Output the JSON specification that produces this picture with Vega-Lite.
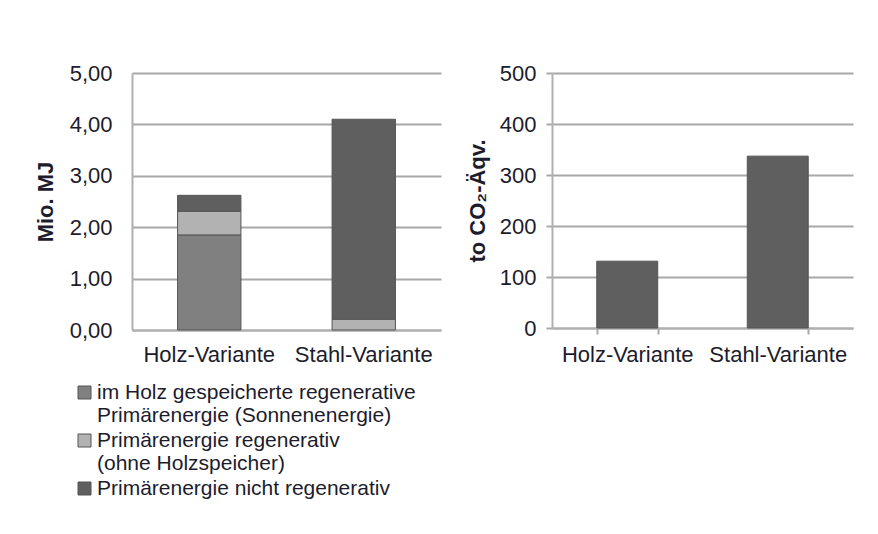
{
  "$schema": "https://vega.github.io/schema/vega-lite/v6.json",
  "background": "white",
  "padding": {"left": 34, "top": 62, "right": 5, "bottom": 5},
  "spacing": 25,
  "config": {
    "font": "Liberation Sans",
    "view": {"stroke": null},
    "axis": {
      "labelFont": "Liberation Sans",
      "labelFontSize": 22,
      "labelColor": "#1c1c2c",
      "titleFont": "Liberation Sans",
      "titleFontSize": 22,
      "titleFontWeight": "bold",
      "titleColor": "#1c1c2c",
      "gridColor": "#a8a8a8",
      "gridWidth": 2,
      "domainColor": "#b0b0b0",
      "domainWidth": 2,
      "tickColor": "#a8a8a8",
      "tickWidth": 2
    }
  },
  "hconcat": [
    {
      "width": 309,
      "height": 257,
      "data": {
        "values": [
          {"variant": "Holz-Variante", "category": "im Holz gespeicherte regenerative Primärenergie (Sonnenenergie)", "order": 1, "value": 1.85},
          {"variant": "Holz-Variante", "category": "Primärenergie regenerativ (ohne Holzspeicher)", "order": 2, "value": 0.46},
          {"variant": "Holz-Variante", "category": "Primärenergie nicht regenerativ", "order": 3, "value": 0.31},
          {"variant": "Stahl-Variante", "category": "Primärenergie regenerativ (ohne Holzspeicher)", "order": 2, "value": 0.21},
          {"variant": "Stahl-Variante", "category": "Primärenergie nicht regenerativ", "order": 3, "value": 3.89}
        ]
      },
      "mark": {"type": "bar", "stroke": "#555555", "strokeWidth": 1},
      "encoding": {
        "x": {
          "field": "variant",
          "type": "nominal",
          "sort": ["Holz-Variante", "Stahl-Variante"],
          "scale": {"paddingInner": 0.59, "paddingOuter": 0.295},
          "axis": {"title": null, "labelAngle": 0, "ticks": false, "labelPadding": 14}
        },
        "y": {
          "field": "value",
          "type": "quantitative",
          "stack": "zero",
          "scale": {"domain": [0, 5]},
          "axis": {
            "title": "Mio. MJ",
            "values": [0, 1, 2, 3, 4, 5],
            "labelExpr": "replace(format(datum.value, '.2f'), '.', ',')",
            "ticks": false,
            "labelPadding": 20,
            "titlePadding": 12
          }
        },
        "color": {
          "field": "category",
          "type": "nominal",
          "scale": {
            "domain": [
              "im Holz gespeicherte regenerative Primärenergie (Sonnenenergie)",
              "Primärenergie regenerativ (ohne Holzspeicher)",
              "Primärenergie nicht regenerativ"
            ],
            "range": ["#808080", "#b2b2b2", "#5f5f5f"]
          },
          "legend": {
            "title": null,
            "orient": "none",
            "legendX": -58,
            "legendY": 309,
            "direction": "vertical",
            "padding": 0,
            "symbolType": "square",
            "symbolSize": 169,
            "symbolStrokeColor": "#555555",
            "symbolStrokeWidth": 1,
            "symbolOffset": 0,
            "labelOffset": 2,
            "labelFont": "Liberation Sans",
            "labelFontSize": 21,
            "labelColor": "#1c1c2c",
            "labelBaseline": "middle",
            "labelLimit": 500,
            "rowPadding": 3,
            "labelExpr": "datum.label == 'im Holz gespeicherte regenerative Primärenergie (Sonnenenergie)' ? ['im Holz gespeicherte regenerative', 'Primärenergie (Sonnenenergie)'] : datum.label == 'Primärenergie regenerativ (ohne Holzspeicher)' ? ['Primärenergie regenerativ', '(ohne Holzspeicher)'] : datum.label"
          }
        },
        "order": {"field": "order", "type": "quantitative"}
      }
    },
    {
      "width": 301,
      "height": 255,
      "data": {
        "values": [
          {"variant": "Holz-Variante", "co2": 131},
          {"variant": "Stahl-Variante", "co2": 337}
        ]
      },
      "mark": {"type": "bar", "color": "#5f5f5f", "stroke": "#555555", "strokeWidth": 1},
      "encoding": {
        "x": {
          "field": "variant",
          "type": "nominal",
          "sort": ["Holz-Variante", "Stahl-Variante"],
          "scale": {"paddingInner": 0.595, "paddingOuter": 0.2975},
          "axis": {"title": null, "labelAngle": 0, "ticks": true, "tickBand": "extent", "tickSize": 6, "labelPadding": 10}
        },
        "y": {
          "field": "co2",
          "type": "quantitative",
          "scale": {"domain": [0, 500]},
          "axis": {
            "title": "to CO₂-Äqv.",
            "values": [0, 100, 200, 300, 400, 500],
            "tickSize": 6,
            "labelPadding": 10,
            "titlePadding": 10
          }
        }
      }
    }
  ]
}
